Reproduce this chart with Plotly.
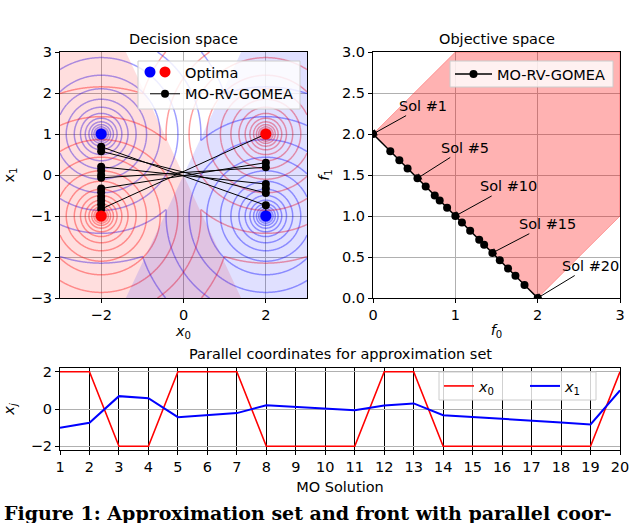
import numpy as np
import plotly.graph_objects as go

# ---------------- data ----------------
solution_ids = list(range(1, 21))
sol_x0 = [2, 2, -2, -2, 2, 2, 2, -2, -2, -2, -2, 2, 2, -2, -2, -2, -2, -2, -2, 2]
sol_x1 = [-1.0, -0.74, 0.69, 0.58, -0.44, -0.33, -0.22, 0.2, 0.11, 0.0,
          -0.07, 0.19, 0.3, -0.33, -0.42, -0.53, -0.62, -0.72, -0.83, 1.0]
sol_f0 = [0.0, 0.21, 0.32, 0.42, 0.54, 0.64, 0.75, 0.81, 0.9, 1.0,
          1.08, 1.18, 1.29, 1.35, 1.45, 1.54, 1.64, 1.73, 1.84, 2.0]
sol_f1 = [2.0, 1.79, 1.68, 1.58, 1.46, 1.36, 1.25, 1.19, 1.1, 1.0,
          0.92, 0.82, 0.71, 0.65, 0.55, 0.46, 0.36, 0.27, 0.16, 0.0]

blue_opt_x = [-2, 2]
blue_opt_y = [1, -1]
red_opt_x = [-2, 2]
red_opt_y = [-1, 1]

# shaded half-planes in decision space
red_region_x = [-3, -1.4, 1.4, -3]
red_region_y = [3, 3, -3, -3]
blue_region_x = [1.4, 3, 3, -1.4]
blue_region_y = [3, 3, -3, -3]

# attainable region in objective space
att_f0 = [0, 1, 3, 3, 2, 0]
att_f1 = [2, 3, 3, 1, 0, 2]

annot_sols = [1, 5, 10, 15, 20]
annot_text_f0 = [0.61, 1.12, 1.65, 2.12, 2.64]
annot_text_f1 = [2.34, 1.83, 1.36, 0.9, 0.39]

par_ticks = list(range(1, 21))

# contour radii: geometric, from smallest ring, ratio between rings, largest ring
ring_min, ring_ratio, ring_max = 0.08, 1.3, 3.3

# ---------------- contour grids (objective functions) ----------------
gx = np.linspace(-3, 3, 361)
gy = np.linspace(-3, 3, 361)
GX, GY = np.meshgrid(gx, gy)
def min_dist(ox, oy):
    d = [np.hypot(GX - a, GY - b) for a, b in zip(ox, oy)]
    return np.maximum(np.minimum(*d), 1e-3)
z_blue = np.log(min_dist(blue_opt_x, blue_opt_y))
z_red = np.log(min_dist(red_opt_x, red_opt_y))

FONT = "DejaVu Sans"
FS = 14.5
W, H = 640, 523
def px(x): return x / W
def py(y): return 1 - y / H

fig = go.Figure()

# shading
fig.add_trace(go.Scatter(x=red_region_x, y=red_region_y, fill="toself", mode="lines",
                         line=dict(width=0), fillcolor="rgba(255,0,0,0.13)",
                         showlegend=False, hoverinfo="skip", xaxis="x", yaxis="y"))
fig.add_trace(go.Scatter(x=blue_region_x, y=blue_region_y, fill="toself", mode="lines",
                         line=dict(width=0), fillcolor="rgba(0,0,255,0.12)",
                         showlegend=False, hoverinfo="skip", xaxis="x", yaxis="y"))

lv = dict(start=np.log(ring_min), end=np.log(ring_max), size=np.log(ring_ratio),
          coloring="lines", showlabels=False)
fig.add_trace(go.Contour(x=gx, y=gy, z=z_blue, contours=lv, autocontour=False,
                         colorscale=[[0, "rgba(0,0,255,0.38)"], [1, "rgba(0,0,255,0.38)"]],
                         showscale=False, line=dict(width=1.5, smoothing=1),
                         hoverinfo="skip", xaxis="x", yaxis="y"))
fig.add_trace(go.Contour(x=gx, y=gy, z=z_red, contours=lv, autocontour=False,
                         colorscale=[[0, "rgba(255,0,0,0.38)"], [1, "rgba(255,0,0,0.38)"]],
                         showscale=False, line=dict(width=1.5, smoothing=1),
                         hoverinfo="skip", xaxis="x", yaxis="y"))

# approximation set in decision space
fig.add_trace(go.Scatter(x=sol_x0, y=sol_x1, mode="lines+markers", name="MO-RV-GOMEA",
                         line=dict(color="black", width=1), marker=dict(color="black", size=8),
                         legend="legend", legendrank=2, xaxis="x", yaxis="y"))
# optima
fig.add_trace(go.Scatter(x=blue_opt_x, y=blue_opt_y, mode="markers", name="Optima (blue)",
                         marker=dict(color="blue", size=11), showlegend=False,
                         xaxis="x", yaxis="y"))
fig.add_trace(go.Scatter(x=red_opt_x, y=red_opt_y, mode="markers", name="Optima",
                         marker=dict(color="red", size=11), legend="legend", legendrank=1,
                         xaxis="x", yaxis="y"))

# objective space
fig.add_trace(go.Scatter(x=att_f0, y=att_f1, fill="toself", mode="lines",
                         line=dict(width=1, color="rgba(255,0,0,0.3)"),
                         fillcolor="rgba(255,0,0,0.3)", showlegend=False, hoverinfo="skip",
                         xaxis="x2", yaxis="y2"))
fig.add_trace(go.Scatter(x=sol_f0, y=sol_f1, mode="lines+markers", name="MO-RV-GOMEA",
                         line=dict(color="black", width=1.5), marker=dict(color="black", size=8),
                         legend="legend2", xaxis="x2", yaxis="y2"))

# parallel coordinates
fig.add_trace(go.Scatter(x=solution_ids, y=sol_x0, mode="lines", name="<i>x</i><sub>0</sub>",
                         line=dict(color="red", width=1.6), legend="legend3",
                         xaxis="x3", yaxis="y3"))
fig.add_trace(go.Scatter(x=solution_ids, y=sol_x1, mode="lines", name="<i>x</i><sub>1</sub>",
                         line=dict(color="blue", width=2), legend="legend3",
                         xaxis="x3", yaxis="y3"))

annotations = []
for s, tx, ty in zip(annot_sols, annot_text_f0, annot_text_f1):
    annotations.append(dict(x=sol_f0[s - 1], y=sol_f1[s - 1], ax=tx, ay=ty,
                            xref="x2", yref="y2", axref="x2", ayref="y2",
                            text=f"Sol #{s}", showarrow=True, arrowhead=1, arrowsize=1.2,
                            arrowwidth=1, arrowcolor="black",
                            font=dict(family=FONT, size=FS, color="black")))

def title_ann(text, x, y):
    return dict(text=text, x=px(x), y=py(y), xref="paper", yref="paper",
                showarrow=False, xanchor="center", yanchor="middle",
                font=dict(family=FONT, size=FS, color="black"))

annotations += [
    title_ann("Decision space", 183.5, 39),
    title_ann("Objective space", 496.5, 39),
    title_ann("Parallel coordinates for approximation set", 340, 354),
    dict(text="<b>Figure 1: Approximation set and front with parallel coor-</b>",
         x=px(2), y=py(513), xref="paper", yref="paper", showarrow=False,
         xanchor="left", yanchor="middle",
         font=dict(family="DejaVu Serif", size=19, color="black")),
]

def legend_box(x0, y0, x1, y1):
    return dict(type="rect", xref="paper", yref="paper", x0=px(x0), x1=px(x1),
                y0=py(y1), y1=py(y0), fillcolor="rgba(255,255,255,0.82)",
                line=dict(color="#cccccc", width=1), layer="above")

shapes = [
    legend_box(138, 61, 300, 109),
    legend_box(450, 61, 613, 87),
    legend_box(439, 372, 596, 400),
    dict(type="circle", xref="paper", yref="paper", xsizemode="pixel", ysizemode="pixel",
         xanchor=px(150), yanchor=py(72), x0=-5.5, x1=5.5, y0=-5.5, y1=5.5,
         fillcolor="blue", line=dict(width=0), layer="above"),
]

axis_common = dict(showline=True, linecolor="black", linewidth=1, mirror=True,
                   ticks="outside", ticklen=4, tickcolor="black",
                   showgrid=True, gridcolor="#b0b0b0", gridwidth=1, zeroline=False,
                   tickfont=dict(family=FONT, size=FS, color="black"), automargin=False)

leg_common = dict(xanchor="left", yanchor="top", bgcolor="rgba(0,0,0,0)", borderwidth=0,
                  font=dict(family=FONT, size=FS))

fig.update_layout(
    width=W, height=H, margin=dict(l=0, r=0, t=0, b=0, autoexpand=False),
    paper_bgcolor="white", plot_bgcolor="white",
    font=dict(family=FONT, size=FS, color="black"),
    xaxis=dict(axis_common, domain=[px(60), px(307)], range=[-3, 3], tickvals=[-2, 0, 2],
               ticktext=["\u22122", "0", "2"], anchor="y",
               title=dict(text="<i>x</i><sub>0</sub>", standoff=2, font=dict(size=FS))),
    yaxis=dict(axis_common, domain=[py(298), py(52)], range=[-3, 3],
               tickvals=[-3, -2, -1, 0, 1, 2, 3],
               ticktext=["\u22123", "\u22122", "\u22121", "0", "1", "2", "3"], anchor="x",
               title=dict(text="x<sub>1</sub>", standoff=12, font=dict(size=FS))),
    xaxis2=dict(axis_common, domain=[px(373), px(620)], range=[0, 3], tickvals=[0, 1, 2, 3],
                anchor="y2",
                title=dict(text="<i>f</i><sub>0</sub>", standoff=2, font=dict(size=FS))),
    yaxis2=dict(axis_common, domain=[py(298), py(52)], range=[0, 3],
                tickvals=[0, 0.5, 1, 1.5, 2, 2.5, 3], tickformat=".1f", anchor="x2",
                title=dict(text="<i>f</i><sub>1</sub>", standoff=8, font=dict(size=FS))),
    xaxis3=dict(axis_common, domain=[px(60), px(620)], range=[1, 20], tickvals=par_ticks,
                gridcolor="black", anchor="y3",
                title=dict(text="MO Solution", standoff=7, font=dict(size=FS))),
    yaxis3=dict(axis_common, domain=[py(450), py(368)], range=[-2.2, 2.2],
                tickvals=[-2, 0, 2], ticktext=["\u22122", "0", "2"], anchor="x3",
                title=dict(text="<i>x<sub>j</sub></i>", standoff=12, font=dict(size=FS))),
    legend=dict(leg_common, x=px(145), y=py(56), itemwidth=30, tracegroupgap=2),
    legend2=dict(leg_common, x=px(450), y=py(58), itemwidth=37),
    legend3=dict(leg_common, x=px(439), y=py(370), orientation="h",
                 itemwidth=30, entrywidth=41, entrywidthmode="pixels"),
    annotations=annotations,
    shapes=shapes,
)

fig.write_html("out.html", config={"displayModeBar": False},
               post_script="document.body.style.margin='0px';")
